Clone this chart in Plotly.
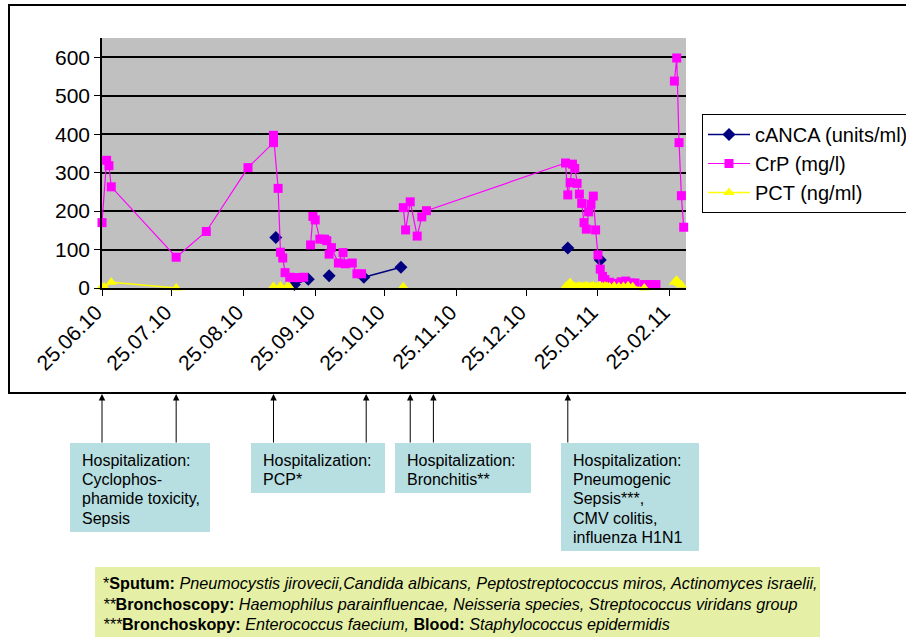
import plotly.graph_objects as go

# ---------------- data ----------------
crp_dates = ["2010-06-25", "2010-06-27", "2010-06-28", "2010-06-29", "2010-07-27", "2010-08-09",
             "2010-08-27", "2010-09-07", "2010-09-07", "2010-09-09", "2010-09-10", "2010-09-11",
             "2010-09-12", "2010-09-14", "2010-09-16", "2010-09-18", "2010-09-20",
             "2010-09-21",
             "2010-09-23", "2010-09-24", "2010-09-25", "2010-09-27", "2010-09-29", "2010-09-30",
             "2010-10-01", "2010-10-02", "2010-10-05", "2010-10-07", "2010-10-08", "2010-10-11",
             "2010-10-13", "2010-10-15",
             "2010-10-25",
             "2010-11-02", "2010-11-03", "2010-11-05", "2010-11-08", "2010-11-10", "2010-11-12",
             "2011-01-11", "2011-01-12", "2011-01-13", "2011-01-14", "2011-01-15", "2011-01-16",
             "2011-01-17", "2011-01-18", "2011-01-19", "2011-01-20", "2011-01-21", "2011-01-22",
             "2011-01-23", "2011-01-24", "2011-01-25", "2011-01-26", "2011-01-27", "2011-01-28",
             "2011-01-30", "2011-02-01", "2011-02-04", "2011-02-06", "2011-02-08", "2011-02-10",
             "2011-02-14", "2011-02-17", "2011-02-19",
             "2011-02-23",
             "2011-02-27", "2011-02-28", "2011-03-01", "2011-03-02", "2011-03-03"]
crp_values = [170, 332, 318, 263, 80, 147,
              313, 378, 397, 259, 93, 78,
              40, 28, 27, 27, 28,
              None,
              112, 186, 177, 127, 127, 123,
              88, 105, 65, 92, 63, 65,
              37, 37,
              None,
              209, 151, 224, 135, 185, 201,
              325, 242, 274, 322, 311, 272,
              244, 220, 170, 153, 198, 218,
              239, 151, 86, 49, 30, 22,
              15, 12, 16, 18, 13, 13,
              9, 9, 9,
              None,
              538, 598, 378, 240, 158]

canca_dates = ["2010-09-08", "2010-09-12", "2010-09-16", "2010-09-22", "2010-09-26",
               "2010-10-01", "2010-10-08", "2010-10-16", "2010-11-01", "2010-12-15",
               "2011-01-12", "2011-01-20", "2011-01-26"]
canca_values = [131, None, 9, 23, None,
                32, None, 28, 54, None,
                104, None, 73]

pct_dates = ["2010-06-25", "2010-06-26", "2010-06-29", "2010-07-27",
             "2010-08-15",
             "2010-09-07", "2010-09-10", "2010-09-13", "2010-09-14",
             "2010-10-20",
             "2010-11-02",
             "2010-12-10",
             "2011-01-11", "2011-01-12", "2011-01-13", "2011-01-14", "2011-01-15", "2011-01-16",
             "2011-01-17", "2011-01-18", "2011-01-19", "2011-01-20", "2011-01-21", "2011-01-22",
             "2011-01-23", "2011-01-24", "2011-01-25", "2011-01-26", "2011-01-27", "2011-01-28",
             "2011-01-29", "2011-01-30", "2011-02-01", "2011-02-03", "2011-02-05", "2011-02-07",
             "2011-02-09", "2011-02-14",
             "2011-02-22",
             "2011-02-27", "2011-02-28", "2011-03-01", "2011-03-02"]
pct_values = [3, 2, 15, 0,
              None,
              4, 5, 3, 2,
              None,
              3,
              None,
              3, 8, 14, 6, 4, 3,
              5, 3, 4, 6, 3, 4,
              5, 3, 4, 6, 3, 5,
              4, 3, 5, 3, 4, 6,
              3, 0,
              None,
              15, 20, 12, 8]

tick_dates = ["2010-06-25", "2010-07-25", "2010-08-25", "2010-09-25", "2010-10-25",
              "2010-11-25", "2010-12-25", "2011-01-25", "2011-02-25"]
tick_labels = ["25.06.10", "25.07.10", "25.08.10", "25.09.10", "25.10.10",
               "25.11.10", "25.12.10", "25.01.11", "25.02.11"]
y_ticks = [0, 100, 200, 300, 400, 500, 600]

hospital_arrow_dates = ["2010-06-25", "2010-07-27", "2010-09-07", "2010-10-17",
                        "2010-11-05", "2010-11-15", "2011-01-12", "2011-03-06"]
hospital_box_lines = [
    ["Hospitalization:", "Cyclophos-", "phamide toxicity,", "Sepsis"],
    ["Hospitalization:", "PCP*"],
    ["Hospitalization:", "Bronchitis**"],
    ["Hospitalization:", "Pneumogenic", "Sepsis***,", "CMV colitis,", "influenza H1N1"],
]
footnote_lines = [
    "*<b>Sputum:</b> <i>Pneumocystis jirovecii,Candida albicans, Peptostreptococcus miros, Actinomyces israelii,</i>",
    "<i>**</i><b>Bronchoscopy:</b> <i>Haemophilus parainfluencae, Neisseria species, Streptococcus viridans group</i>",
    "<i>***</i><b>Bronchoskopy:</b> <i>Enterococcus faecium,</i> <b>Blood:</b> <i>Staphylococcus epidermidis</i>",
]

# ---------------- layout geometry (pixels) ----------------
W, H = 906, 637
L, R, T, B = 102, 220, 38, 349
PW, PH = W - L - R, H - T - B
FONT = "Arial, Liberation Sans, sans-serif"


def px(x):
    return (x - L) / PW


def py(y):
    return (H - B - y) / PH


fig = go.Figure()
fig.add_trace(go.Scatter(x=canca_dates, y=canca_values, name="cANCA (units/ml)",
                         mode="lines+markers", connectgaps=False, cliponaxis=False,
                         line=dict(color="#000080", width=1.5),
                         marker=dict(symbol="diamond", size=10, color="#000080")))
fig.add_trace(go.Scatter(x=crp_dates, y=crp_values, name="CrP (mg/l)",
                         mode="lines+markers", connectgaps=False, cliponaxis=False,
                         line=dict(color="#FF00FF", width=1.2),
                         marker=dict(symbol="square", size=9, color="#FF00FF")))
fig.add_trace(go.Scatter(x=pct_dates, y=pct_values, name="PCT (ng/ml)",
                         mode="lines+markers", connectgaps=False, cliponaxis=False,
                         line=dict(color="#FFFF00", width=1.5),
                         marker=dict(symbol="triangle-up", size=10, color="#FFFF00")))

shapes = []
annotations = []

# outer chart frame
shapes.append(dict(type="rect", xref="paper", yref="paper", x0=px(9), x1=px(930),
                   y0=py(393), y1=py(5), line=dict(color="black", width=2), layer="below"))

# hospitalization arrows
for d in hospital_arrow_dates:
    annotations.append(dict(x=d, xref="x", y=py(394), yref="paper", text="",
                            showarrow=True, ax=0, ay=50, arrowhead=2, arrowsize=1.3,
                            arrowwidth=1, arrowcolor="black"))

# hospitalization boxes
boxes = [(70, 210, 443, 532), (251, 385, 443, 493), (395, 531, 443, 493), (561, 699, 443, 551)]
for (x0, x1, y0, y1), lines in zip(boxes, hospital_box_lines):
    shapes.append(dict(type="rect", xref="paper", yref="paper", x0=px(x0), x1=px(x1),
                       y0=py(y1), y1=py(y0), fillcolor="#B7DEE1", line=dict(width=0)))
    for i, t in enumerate(lines):
        annotations.append(dict(x=px(x0 + 10), y=py(460 + i * 19.4), xref="paper", yref="paper",
                                text=t, showarrow=False, xanchor="left", yanchor="middle",
                                font=dict(family=FONT, size=16, color="black")))

# footnote box
shapes.append(dict(type="rect", xref="paper", yref="paper", x0=px(95), x1=px(820),
                   y0=py(645), y1=py(567), fillcolor="#E5F0A6", line=dict(width=0)))
for i, t in enumerate(footnote_lines):
    annotations.append(dict(x=px(101), y=py(583 + i * 20.5), xref="paper", yref="paper",
                            text=t, showarrow=False, xanchor="left", yanchor="middle",
                            font=dict(family=FONT, size=16.2, color="black")))

fig.update_layout(
    width=W, height=H,
    margin=dict(l=L, r=R, t=T, b=B, pad=0, autoexpand=False),
    paper_bgcolor="white", plot_bgcolor="#C0C0C0",
    font=dict(family=FONT, size=20, color="black"),
    showlegend=True,
    legend=dict(x=px(702), y=py(114), xanchor="left", yanchor="top",
                bordercolor="black", borderwidth=1, bgcolor="white",
                font=dict(family=FONT, size=20, color="black"),
                itemwidth=42, tracegroupgap=2, traceorder="normal"),
    shapes=shapes, annotations=annotations,
    xaxis=dict(type="date", range=["2010-06-25", "2011-03-04"],
               tickmode="array", tickvals=tick_dates, ticktext=tick_labels,
               tickangle=-45, ticks="outside", ticklen=6, tickcolor="black",
               ticklabelstandoff=-4, ticklabelshift=-6,
               showline=True, linecolor="black", linewidth=1.5,
               showgrid=False, zeroline=False,
               tickfont=dict(family=FONT, size=21, color="black")),
    yaxis=dict(range=[0, 650], tickmode="array", tickvals=y_ticks,
               ticks="outside", ticklen=6, tickcolor="black",
               showline=True, linecolor="black", linewidth=1.5,
               showgrid=True, gridcolor="black", gridwidth=1.8, zeroline=False,
               tickfont=dict(family=FONT, size=21, color="black")),
)

fig.write_html("out.html", config={"displayModeBar": False},
               post_script="document.body.style.margin='0';")
